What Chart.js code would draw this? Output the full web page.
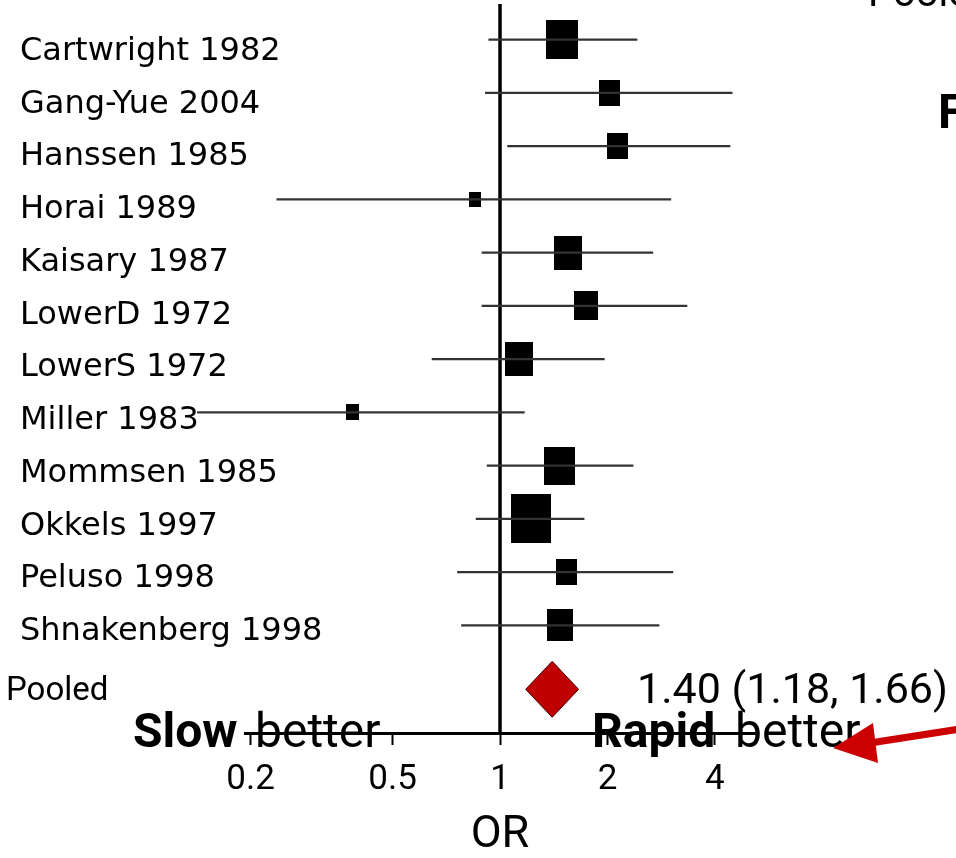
<!DOCTYPE html>
<html>
<head>
<meta charset="utf-8">
<title>Forest plot - OR</title>
<script src="https://cdn.jsdelivr.net/npm/chart.js@4.4.1/dist/chart.umd.min.js"></script>
<style>
	html, body { margin:0; padding:0; background:#fff; }
	#wrap { position:relative; width:956px; height:858px; }
</style>
</head>
<body>
<div id="wrap"><canvas id="forestChart"></canvas></div>
<script>
	// ------- data -----------------------------------------
	const studies = ["Cartwright 1982", "Gang-Yue 2004", "Hanssen 1985", "Horai 1989", "Kaisary 1987", "LowerD 1972",
		"LowerS 1972", "Miller 1983", "Mommsen 1985", "Okkels 1997", "Peluso 1998", "Shnakenberg 1998"];
	const orEst  = [1.49, 2.03, 2.14, 0.85, 1.55, 1.74, 1.13, 0.385, 1.47, 1.22, 1.54, 1.47];
	const ciLow  = [0.93, 0.91, 1.05, 0.237, 0.89, 0.89, 0.645, 0.142, 0.92, 0.857, 0.76, 0.78];
	const ciHigh = [2.42, 4.47, 4.41, 3.01, 2.68, 3.34, 1.96, 1.17, 2.36, 1.72, 3.05, 2.79];
	const weights = [12.7, 5.6, 5.7, 1.7, 9.5, 7.2, 9.5, 2.2, 12.1, 19.9, 5.7, 8.2];	// % weight
	const pooledLabel = "Pooled";
	const pooledEst = 1.40, pooledLow = 1.18, pooledHigh = 1.66;
	const xTicks = [0.2, 0.5, 1, 2, 4];
	const xTickLabels = ["0.2", "0.5", "1", "2", "4"];

	const pooledRow = 12.2;

	// study square as pointStyle (size from weight)
	function makeBox(w) {
		let bw = Math.round(9 * Math.sqrt(w));
		let bh = Math.round(bw * 1.22);
		let c = document.createElement('canvas');
		c.width = bw; c.height = bh;
		let g = c.getContext('2d');
		g.fillStyle = '#000';
		g.fillRect(0, 0, bw, bh);
		return c;
	}
	const boxes = weights.map(w => makeBox(w));

	// line at OR = 1
	const nullLinePlugin = {
		id: 'nullLine',
		beforeDatasetsDraw(chart) {
			const {ctx, chartArea, scales: {x}} = chart;
			let px = x.getPixelForValue(1);
			ctx.save();
			ctx.strokeStyle = '#000';
			ctx.lineWidth = 3.5;
			ctx.beginPath();
			ctx.moveTo(px, 4);
			ctx.lineTo(px, chartArea.bottom);
			ctx.stroke();
			ctx.restore();
		}
	};

	// pooled diamond + texts + arrow
	const annotatePlugin = {
		id: 'annotate',
		afterDraw(chart) {
			const {ctx, scales: {x, y}} = chart;
			ctx.save();

			// diamond
			let cy = y.getPixelForValue(pooledRow);
			let xl = x.getPixelForValue(pooledLow), xm = x.getPixelForValue(pooledEst), xr = x.getPixelForValue(pooledHigh);
			ctx.beginPath();
			ctx.moveTo(xl, cy);
			ctx.lineTo(xm, cy - 28);
			ctx.lineTo(xr, cy);
			ctx.lineTo(xm, cy + 28);
			ctx.closePath();
			ctx.fillStyle = '#c00000';
			ctx.fill();
			ctx.strokeStyle = '#400000';
			ctx.lineWidth = 1;
			ctx.stroke();

			// study labels
			ctx.fillStyle = '#000';
			ctx.textBaseline = 'middle';
			ctx.textAlign = 'left';
			ctx.font = '32px "DejaVu Sans"';
			studies.forEach((s, i) => {
				ctx.fillText(s, 20, y.getPixelForValue(i) + 12 - i * 0.5);
			});
			ctx.font = '33px Roboto';
			ctx.fillText(pooledLabel, 6, cy + 2);
			ctx.font = '43px Roboto';
			ctx.fillText(pooledEst.toFixed(2) + " (" + pooledLow.toFixed(2) + ", " + pooledHigh.toFixed(2) + ")", 637, cy + 3);

			// Slow better / Rapid better
			ctx.textBaseline = 'alphabetic';
			ctx.font = 'bold 48px Roboto';
			ctx.fillText("Slow", 133, 747);
			ctx.fillText("Rapid", 592, 747);
			ctx.font = '48px Roboto';
			ctx.fillText("better", 255, 747);
			ctx.fillText("better", 735, 747);

			// cut-off slide text
			ctx.font = '40px Roboto';
			ctx.fillText("Pooled", 868, 6);
			ctx.font = 'bold 48px Roboto';
			ctx.fillText("F", 938, 128);

			// red arrow
			ctx.strokeStyle = '#cc0000';
			ctx.fillStyle = '#cc0000';
			ctx.lineWidth = 7;
			ctx.beginPath();
			ctx.moveTo(960, 729);
			ctx.lineTo(870, 743);
			ctx.stroke();
			ctx.beginPath();
			ctx.moveTo(833, 748);
			ctx.lineTo(873, 723);
			ctx.lineTo(878, 763);
			ctx.closePath();
			ctx.fill();

			ctx.restore();
		}
	};

	const ctxEl = document.getElementById('forestChart');
	window.chart = new Chart(ctxEl, {
		type: 'scatter',
		data: {
			datasets: [
				{
					type: 'bar',
					indexAxis: 'y',
					data: studies.map((s, i) => ({ x: [ciLow[i], ciHigh[i]], y: i })),
					backgroundColor: '#333',
					borderWidth: 0,
					barThickness: 1.5,
					clip: false
				},
				{
					type: 'scatter',
					data: studies.map((s, i) => ({ x: orEst[i], y: i })),
					pointStyle: (c) => boxes[c.dataIndex],
					pointRadius: 5,
					clip: false
				}
			]
		},
		options: {
			responsive: true,
			maintainAspectRatio: false,
			animation: false,
			events: [],
			layout: { padding: { left: 245, right: 201, top: 0, bottom: 0 } },
			plugins: { legend: { display: false }, tooltip: { enabled: false } },
			scales: {
				x: {
					type: 'logarithmic',
					min: 0.193,
					max: 5.18,
					bounds: 'data',
					afterBuildTicks: (s) => { s.ticks = xTicks.map(v => ({ value: v })); },
					afterFit: (s) => { s.height = 125; },
					border: { display: true, color: '#000', width: 3 },
					grid: { drawOnChartArea: false, drawTicks: true, tickLength: 12, tickWidth: 2, tickColor: '#000' },
					ticks: {
						padding: 14, color: '#000', maxRotation: 0, autoSkip: false,
						font: { family: 'Roboto', size: 35 },
						callback: (v, i) => xTickLabels[i]
					},
					title: {
						display: true, text: 'OR', color: '#000',
						font: { family: 'Roboto', size: 45, lineHeight: 1 },
						padding: { top: 0, bottom: 0 }
					}
				},
				y: {
					type: 'linear',
					display: false,
					reverse: true,
					offset: false,
					min: -0.63,
					max: 13.02
				}
			}
		},
		plugins: [nullLinePlugin, annotatePlugin]
	});
</script>
</body>
</html>
